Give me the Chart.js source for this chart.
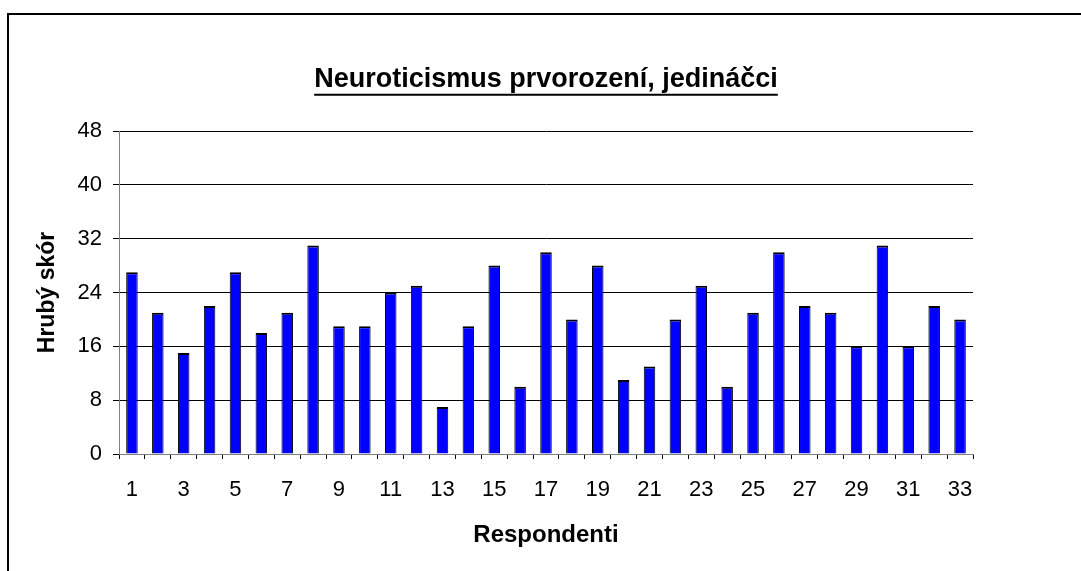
<!DOCTYPE html>
<html><head><meta charset="utf-8">
<script src="https://cdn.jsdelivr.net/npm/chart.js@4.4.1/dist/chart.umd.min.js"></script>
<style>
html,body{margin:0;padding:0;background:#fff;overflow:hidden;width:1081px;height:571px;}
#frame{position:absolute;left:7px;top:13px;width:1200px;height:700px;border-top:2px solid #000;border-left:2px solid #000;}
#wrap{position:absolute;left:0;top:0;width:1081px;height:571px;}
</style></head><body>
<div id="frame"></div>
<div id="wrap"><canvas id="c" width="1081" height="571"></canvas></div>
<script>
const categories = ['1','2','3','4','5','6','7','8','9','10','11','12','13','14','15','16','17','18','19','20','21','22','23','24','25','26','27','28','29','30','31','32','33'];
const scores = [27,21,15,22,27,18,21,31,19,19,24,25,7,19,28,10,30,20,28,11,13,20,25,10,21,30,22,21,16,31,16,22,20];
const xTickLabels = ['1','','3','','5','','7','','9','','11','','13','','15','','17','','19','','21','','23','','25','','27','','29','','31','','33'];
const yTickValues = [0,8,16,24,32,40,48];
const chartTitle = 'Neuroticismus prvorození, jedináčci';
const xTitle = 'Respondenti';
const yTitle = 'Hrubý skór';

const FONT = "'Liberation Sans', Arial, sans-serif";

const underlinePlugin = {
  id: 'titleUnderline',
  afterDraw(chart) {
    const tb = chart.titleBlock;
    if (!tb) return;
    const opts = chart.options.plugins.title;
    const size = opts.font.size;
    const lh = size * 1.2;
    const ctx = chart.ctx;
    ctx.save();
    ctx.font = 'bold ' + size + 'px ' + FONT;
    const w = ctx.measureText(chartTitle).width;
    const cx = (tb.left + tb.right) / 2;
    const cy = tb.top + opts.padding.top + lh / 2;
    const y = cy + size * 0.55;
    ctx.strokeStyle = '#000';
    ctx.lineWidth = 2;
    ctx.beginPath();
    ctx.moveTo(cx - w / 2, y);
    ctx.lineTo(cx + w / 2, y);
    ctx.stroke();
    ctx.restore();
  }
};

new Chart(document.getElementById('c'), {
  type: 'bar',
  data: {
    labels: categories,
    datasets: [{
      data: scores,
      backgroundColor: '#0000FF',
      borderColor: '#000000',
      borderWidth: {top: 2, left: 1, right: 1, bottom: 0},
      borderSkipped: 'start',
      barPercentage: 0.445,
      categoryPercentage: 1.0
    }]
  },
  options: {
    responsive: false,
    animation: false,
    layout: {padding: {left: 0, right: 108, top: 0, bottom: 0}},
    plugins: {
      legend: {display: false},
      tooltip: {enabled: false},
      title: {
        display: true,
        text: chartTitle,
        fullSize: false,
        color: '#000',
        font: {family: FONT, size: 27, weight: 'bold'},
        padding: {top: 63.8, bottom: 34.8}
      }
    },
    scales: {
      x: {
        afterFit(scale) { scale.height = 117; },
        grid: {offset: true, drawOnChartArea: false, drawTicks: true, tickLength: 5, color: '#000'},
        border: {color: '#808080', width: 1},
        ticks: {
          autoSkip: false, maxRotation: 0, padding: 18, color: '#000',
          font: {family: FONT, size: 22},
          callback: (v, i) => xTickLabels[i]
        },
        title: {display: true, text: xTitle, color: '#000',
          font: {family: FONT, size: 24, weight: 'bold'}, padding: {top: 0, bottom: 21.6}}
      },
      y: {
        min: 0, max: 48,
        afterFit(scale) { scale.width = 119; },
        afterBuildTicks(scale) { scale.ticks = yTickValues.map(v => ({value: v})); },
        grid: {color: '#000', tickLength: 6, drawTicks: true},
        border: {color: '#808080', width: 1},
        ticks: {padding: 11, color: '#000', font: {family: FONT, size: 22}},
        title: {display: true, text: yTitle, color: '#000',
          font: {family: FONT, size: 23, weight: 'bold'}, padding: {top: 34, bottom: 0}}
      }
    }
  },
  plugins: [underlinePlugin]
});
</script>
</body></html>
